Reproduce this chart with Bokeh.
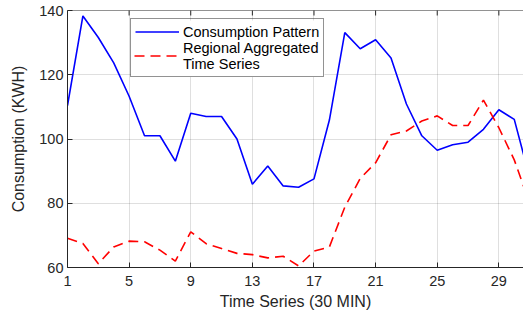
import math
from bokeh.plotting import figure
from bokeh.models import (Range1d, FixedTicker, Legend, LegendItem, Span)
from bokeh.embed import file_html
from bokeh.resources import INLINE

# ---- data ----
slots = list(range(1, 32))
consumption = [110.4, 138.3, 131.6, 123.7, 113.3, 101.0, 101.0, 93.1, 108.0, 107.0,
               107.0, 100.0, 85.9, 91.6, 85.4, 85.0, 87.6, 105.9, 133.1, 128.1,
               130.9, 125.2, 110.9, 101.0, 96.5, 98.2, 99.0, 103.0, 109.1, 106.1, 88.0]
regional = [69.1, 67.5, 61.2, 66.4, 68.2, 68.0, 65.4, 62.0, 71.1, 67.4,
            65.9, 64.4, 64.0, 63.0, 63.5, 60.5, 65.1, 66.4, 78.8, 87.7,
            92.6, 101.3, 102.5, 105.6, 107.2, 104.2, 104.2, 112.1, 103.5, 93.5, 80.0]
x_ticks = [1, 5, 9, 13, 17, 21, 25, 29, 33]
y_ticks = [60, 80, 100, 120, 140]
label_consumption = "Consumption Pattern"
label_regional = "Regional Aggregated\nTime Series"

FONT = "Liberation Sans"
DARK = "#262626"
BLUE = "#0000ff"
RED = "#ff0000"
RED_DASH = "10 6"

W, H = 523, 317
B_LEFT, B_RIGHT, B_TOP, B_BOTTOM = 67, 0, 10, 50
X0, X1 = 1, 30.6
Y0, Y1 = y_ticks[0], y_ticks[-1]
frame_w = W - B_LEFT - B_RIGHT
frame_h = H - B_TOP - B_BOTTOM


def px_to_x(px):
    return X0 + px * (X1 - X0) / frame_w


def px_to_y(py):
    return Y0 + py * (Y1 - Y0) / frame_h


p = figure(width=W, height=H, output_backend="svg", toolbar_location=None,
           x_range=Range1d(X0, X1), y_range=Range1d(Y0, Y1),
           min_border_left=B_LEFT, min_border_right=B_RIGHT, min_border_top=B_TOP,
           min_border_bottom=B_BOTTOM)
p.outline_line_color = None
p.background_fill_color = "white"
p.border_fill_color = "white"

p.xgrid.ticker = FixedTicker(ticks=x_ticks)
p.ygrid.ticker = FixedTicker(ticks=y_ticks)
p.grid.grid_line_color = DARK
p.grid.grid_line_alpha = 0.15

# legend box geometry (frame pixels, origin bottom-left)
LEG_X, LEG_Y, PAD, GLYPH_W = 63, 190, 4, 44
LEG_W, LEG_H = 194, 57

# white backing for the legend box (hides the grid behind it)
p.quad(left=[px_to_x(LEG_X + 0.5)], right=[px_to_x(LEG_X + LEG_W)],
       bottom=[px_to_y(LEG_Y + 0.5)], top=[px_to_y(LEG_Y + LEG_H)],
       fill_color="white", line_color=None)

r1 = p.line(slots, consumption, line_color=BLUE, line_width=1.6)
r2 = p.line(slots, regional, line_color=RED, line_width=1.6, line_dash=RED_DASH)
# placeholder renderer for the two-line legend entry (its key is drawn centred below)
r2_key = p.line(x=[], y=[], line_color=RED, line_alpha=0)

for ax in (p.xaxis[0], p.yaxis[0]):
    ax.axis_line_color = DARK
    ax.major_tick_line_color = DARK
    ax.major_tick_in = 5
    ax.major_tick_out = 0
    ax.minor_tick_line_color = None
    ax.major_label_text_font = FONT
    ax.major_label_text_font_size = "14.5px"
    ax.major_label_text_color = DARK
    ax.axis_label_text_font = FONT
    ax.axis_label_text_font_size = "16px"
    ax.axis_label_text_font_style = "normal"
    ax.axis_label_text_color = DARK

p.xaxis[0].ticker = FixedTicker(ticks=x_ticks)
p.yaxis[0].ticker = FixedTicker(ticks=y_ticks)
p.xaxis[0].axis_label = "Time Series (30 MIN)"
p.yaxis[0].axis_label = "Consumption (KWH)"
p.xaxis[0].major_label_standoff = 8
p.xaxis[0].axis_label_standoff = 4
p.yaxis[0].major_label_standoff = 4
p.yaxis[0].axis_label_standoff = 9

# top box edge with inward ticks (MATLAB "box on")
p.add_layout(Span(location=Y1, dimension="width", line_color=DARK, line_width=1))
p.scatter(x_ticks, [Y1] * len(x_ticks), marker="dash", size=10,
          angle=math.pi / 2, line_color=DARK, line_width=1)

# dashed key for the two-line entry, centred between its two text lines
key_py = frame_h - 55.5 + B_TOP
p.line([px_to_x(LEG_X + PAD), px_to_x(LEG_X + PAD + GLYPH_W)],
       [px_to_y(key_py)] * 2, line_color=RED, line_width=1.6, line_dash=RED_DASH)

legend = Legend(items=[LegendItem(label=label_consumption, renderers=[r1]),
                       LegendItem(label=label_regional, renderers=[r2_key])],
                location=(LEG_X, LEG_Y), orientation="vertical",
                label_text_font=FONT, label_text_font_size="14.5px",
                label_text_color="black", glyph_width=GLYPH_W, glyph_height=17,
                label_height=17, label_standoff=4, padding=PAD, spacing=0, margin=0,
                border_line_color=DARK, border_line_width=1,
                background_fill_alpha=0.0)
p.add_layout(legend, "center")

open("out.html", "w").write(file_html(p, INLINE))
